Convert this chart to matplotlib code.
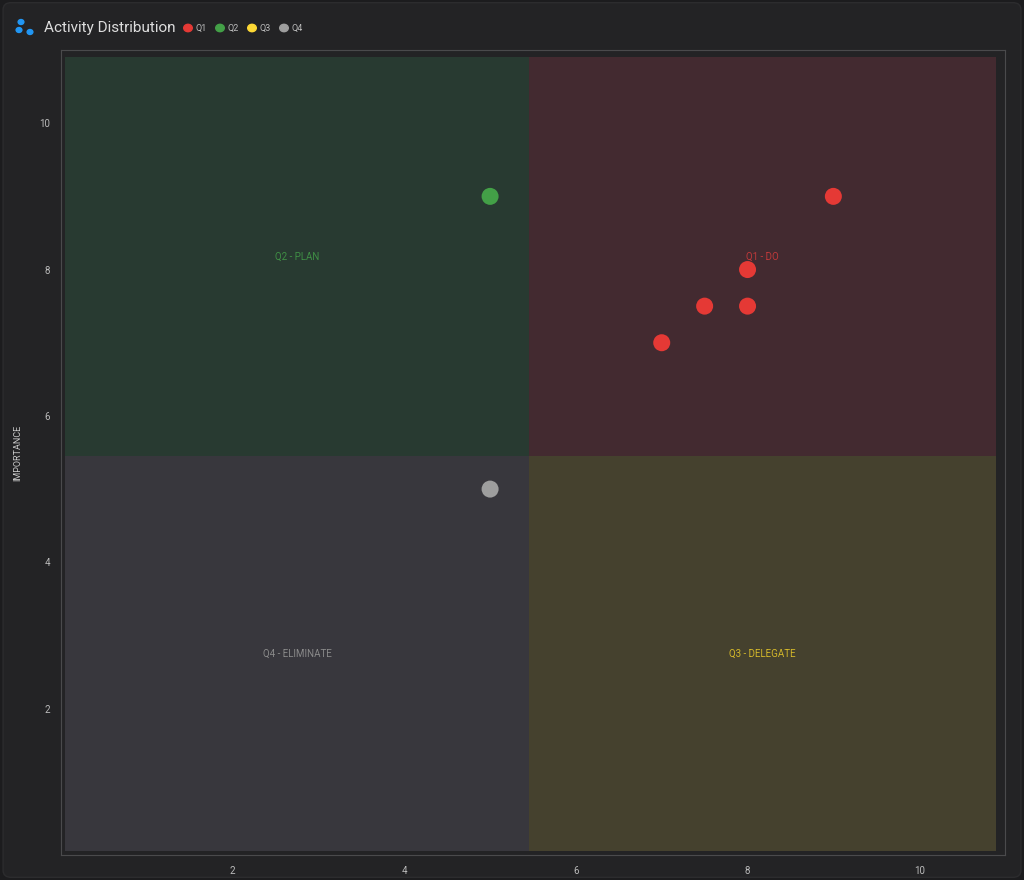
import matplotlib
matplotlib.use("Agg")
from matplotlib import pyplot as plt
from matplotlib.patches import Rectangle, FancyBboxPatch

plt.rcParams["font.family"] = "Roboto"

# data
quadrants = ["Q1", "Q2", "Q3", "Q4"]
quad_colors = ["#e53935", "#43a047", "#fdd835", "#9e9e9e"]
quad_fills = ["#432a30", "#283a31", "#45412e", "#38373d"]
quad_labels = ["Q1 - DO", "Q2 - PLAN", "Q3 - DELEGATE", "Q4 - ELIMINATE"]
label_colors = ["#c0393a", "#3f8f45", "#d4b82a", "#8a8a8a"]
# quadrant extents: (x0, x1, y0, y1)
split = 5.45
lo, hi = 0.05, 10.9
quad_boxes = [(split, hi, split, hi), (lo, split, split, hi),
              (split, hi, lo, split), (lo, split, lo, split)]

urgency = {"Q1": [9, 8, 7.5, 8, 7], "Q2": [5], "Q3": [], "Q4": [5]}
importance = {"Q1": [9, 8, 7.5, 7.5, 7], "Q2": [9], "Q3": [], "Q4": [5]}

x_ticks = [2, 4, 6, 8, 10]
y_ticks = [2, 4, 6, 8, 10]

fig = plt.figure(figsize=(10.24, 8.8), dpi=100)
fig.patch.set_facecolor("#1c1c1e")
card = FancyBboxPatch((0.003, 0.003), 0.994, 0.994, boxstyle="round,pad=0,rounding_size=0.008",
                      transform=fig.transFigure, facecolor="#232325", edgecolor="#2c2c2e", zorder=-5)
fig.patches.append(card)

ax = fig.add_axes([61 / 1024, 25 / 880, 944 / 1024, 805 / 880])
ax.set_zorder(1)
ax.set_facecolor("#232325")
ax.set_xlim(0, 11)
ax.set_ylim(0, 11)

for (x0, x1, y0, y1), fc, lab, lc in zip(quad_boxes, quad_fills, quad_labels, label_colors):
    ax.add_patch(Rectangle((x0, y0), x1 - x0, y1 - y0, facecolor=fc, edgecolor="none", zorder=1))
    ax.text((x0 + x1) / 2, (y0 + y1) / 2, lab, color=lc, fontsize=7, ha="center", va="center", zorder=2)

for q, c in zip(quadrants, quad_colors):
    ax.scatter(urgency[q], importance[q], s=150, color=c, edgecolor="none", zorder=3)

ax.set_xticks(x_ticks)
ax.set_yticks(y_ticks)
ax.tick_params(colors="#bbbbbb", labelsize=7, length=0, pad=8)
for s in ax.spines.values():
    s.set_color("#4a4a4c")
ax.set_ylabel("IMPORTANCE", color="#cccccc", fontsize=6.5, labelpad=12)

# header
fig.text(44 / 1024, 1 - 28 / 880, "Activity Distribution", color="#dddddd", fontsize=11,
         va="center", ha="left")
for dx, dy in [(21, 22), (19, 30), (30, 32)]:
    fig.patches.append(plt.Circle((dx / 1024, 1 - dy / 880), 0.0028, transform=fig.transFigure,
                                  color="#2196f3"))
lx = 188
for q, c in zip(quadrants, quad_colors):
    fig.patches.append(plt.Circle((lx / 1024, 1 - 28 / 880), 0.0042, transform=fig.transFigure,
                                  color=c))
    fig.text((lx + 8) / 1024, 1 - 28 / 880, q, color="#bbbbbb", fontsize=6.5, va="center", ha="left")
    lx += 32

fig.savefig("out.png", dpi=100, facecolor=fig.get_facecolor())
